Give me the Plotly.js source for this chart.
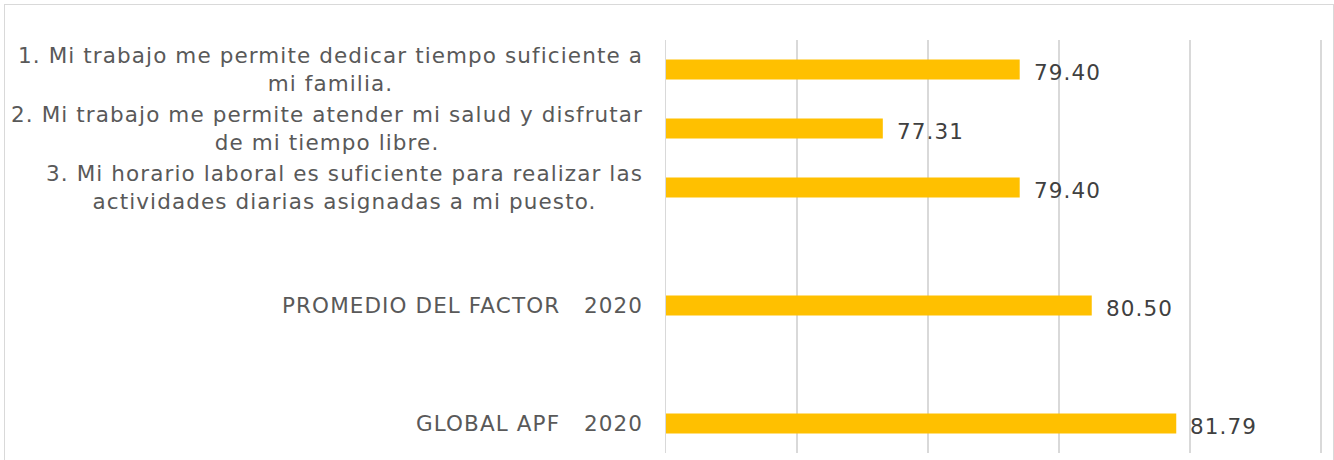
<!DOCTYPE html>
<html>
<head>
<meta charset="utf-8">
<script src="https://cdn.plot.ly/plotly-3.0.1.min.js"></script>
<style>
  html, body { margin: 0; padding: 0; background: #fff; }
  #wrap { position: relative; width: 1334px; height: 460px; overflow: hidden; }
  #chart { width: 1334px; height: 460px; }
  #frame { position: absolute; left: 4px; top: 4px; width: 1330px; height: 480px;
           border: 1px solid #d9d9d9; box-sizing: border-box; pointer-events: none; }
  svg text { letter-spacing: 1.1px; }
</style>
</head>
<body>
<div id="wrap">
  <div id="chart"></div>
  <div id="frame"></div>
</div>
<script>
// Data
const categories = [
  "1. Mi trabajo me permite dedicar tiempo suficiente a<br>mi familia.",
  "2. Mi trabajo me permite atender mi salud y disfrutar<br>de mi tiempo libre.",
  "3. Mi horario laboral es suficiente para realizar las<br>actividades diarias asignadas a mi puesto.",
  "PROMEDIO DEL FACTOR   2020",
  "GLOBAL APF   2020"
];
const values = [79.40, 77.31, 79.40, 80.50, 81.79];
// order of rows on the category axis (blank spacer rows between groups)
const rowOrder = [categories[0], categories[1], categories[2], "gap1", categories[3], "gap2", categories[4]];
const xTicks = [74, 76, 78, 80, 82, 84];
const xMin = 74, xMax = 84;

const FONT = "DejaVu Sans, sans-serif";
const pad = 2 / 65.5; // tiny margin so the right edge grid line is drawn

const trace = {
  type: "bar",
  orientation: "h",
  y: categories,
  x: values,
  width: 0.34,
  marker: { color: "#FFC000" },
  hoverinfo: "skip"
};

const annotations = [];
categories.forEach((c, i) => {
  annotations.push({
    xref: "paper", yref: "y", x: 0, y: c,
    xanchor: "right", yanchor: "middle", xshift: -21,
    text: c.replace(/   /g, "&nbsp;&nbsp;&nbsp;"), align: "center", showarrow: false,
    font: { family: FONT, size: 21.5, color: "#595959" }
  });
  annotations.push({
    xref: "x", yref: "y", x: values[i], y: c,
    xanchor: "left", yanchor: "middle", xshift: 12, yshift: -3,
    text: values[i].toFixed(2), showarrow: false,
    font: { family: FONT, size: 21.5, color: "#404040" }
  });
});

const layout = {
  width: 1334, height: 460,
  margin: { l: 666, r: 11, t: 40, b: 7, pad: 0 },
  paper_bgcolor: "#ffffff", plot_bgcolor: "#ffffff",
  showlegend: false,
  xaxis: {
    range: [xMin, xMax + pad], tickvals: xTicks, showticklabels: false,
    showgrid: true, gridcolor: "#d9d9d9", gridwidth: 1.5,
    zeroline: false, showline: false, ticks: "", fixedrange: true
  },
  yaxis: {
    type: "category", categoryorder: "array", categoryarray: rowOrder,
    range: [6.5, -0.5], showticklabels: false, showgrid: false,
    zeroline: false, showline: true, linecolor: "#d9d9d9", linewidth: 1.5,
    ticks: "", fixedrange: true
  },
  annotations: annotations,
  font: { family: FONT, color: "#595959" }
};

Plotly.newPlot("chart", [trace], layout, { displayModeBar: false, staticPlot: true });
</script>
</body>
</html>
